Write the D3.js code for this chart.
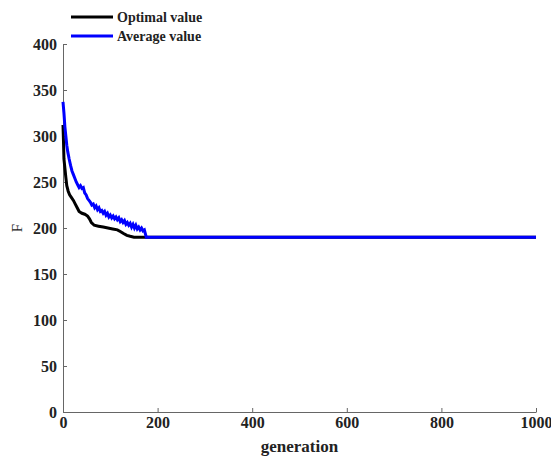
<!DOCTYPE html>
<html>
<head>
<meta charset="utf-8">
<script src="https://cdn.jsdelivr.net/npm/d3@7/dist/d3.min.js"></script>
<style>
  body { margin: 0; background: #fff; }
  .axis path, .axis line { stroke: #666; }
</style>
</head>
<body>
<svg id="chart" width="551" height="457"></svg>
<script>
  let serif = '"Liberation Serif", "Times New Roman", serif';

  // generations and values
  let optGen = [0, 1, 2, 4, 6, 8, 11, 14, 18, 22, 26, 30, 34, 40, 46, 52, 56, 60, 66, 75, 85, 95, 105, 115, 122, 128, 135, 142, 150, 1000];
  let optVal = [312, 295, 275, 265, 255, 246, 240, 236, 233, 230, 226, 222, 218, 216, 215, 213, 210, 206, 203, 202, 201, 200, 199, 198, 196, 194, 192, 191, 190, 190];

  let avgGen = [0, 2, 4, 6, 8, 10, 13, 16, 19, 22, 25, 28, 31, 34, 37, 40, 43, 46, 49, 52, 55, 58, 61, 64, 67, 70, 73, 76, 79, 82, 85, 88, 91, 94, 97, 100, 103, 106, 109, 112, 115, 118, 121, 124, 127, 130, 133, 136, 139, 142, 145, 148, 151, 154, 157, 160, 163, 166, 169, 172, 176, 1000];
  let avgVal = [337, 325, 310, 300, 290, 283, 275, 268, 262, 258, 254, 250, 247, 244, 246, 243, 244, 238, 236, 232, 230, 228, 225, 226, 222, 224, 220, 222, 218, 219, 216, 218, 214, 216, 212, 214, 211, 213, 210, 212, 209, 211, 207, 209, 206, 208, 204, 206, 203, 205, 201, 204, 200, 203, 199, 201, 198, 200, 197, 198, 190, 190];

  let xTicks = [0, 200, 400, 600, 800, 1000];
  let yTicks = [0, 50, 100, 150, 200, 250, 300, 350, 400];

  let margin = { top: 44, right: 15, bottom: 45, left: 63 };
  let svg = d3.select('#chart');
  let width = 551 - margin.left - margin.right;
  let height = 457 - margin.top - margin.bottom;

  let g = svg.append('g')
    .attr('transform', 'translate(' + margin.left + ',' + margin.top + ')');

  let x = d3.scaleLinear().domain([0, 1000]).range([0, width]);
  let y = d3.scaleLinear().domain([0, 400]).range([height, 0]);

  g.append('g')
    .attr('class', 'axis')
    .attr('transform', 'translate(0,' + height + ')')
    .call(d3.axisBottom(x).tickValues(xTicks).tickSizeInner(-4).tickSizeOuter(0).tickPadding(5).tickFormat(d3.format('d')))
    .attr('font-family', serif)
    .attr('font-size', 16)
    .attr('font-weight', 'bold');

  g.append('g')
    .attr('class', 'axis')
    .call(d3.axisLeft(y).tickValues(yTicks).tickSizeInner(-4).tickSizeOuter(0).tickPadding(6))
    .attr('font-family', serif)
    .attr('font-size', 16)
    .attr('font-weight', 'bold');

  g.selectAll('.axis text').attr('fill', '#222');

  let line = d3.line()
    .x(function(d) { return x(d[0]); })
    .y(function(d) { return y(d[1]); });

  g.append('path')
    .datum(d3.zip(optGen, optVal))
    .attr('fill', 'none')
    .attr('stroke', '#000')
    .attr('stroke-width', 3)
    .attr('d', line);

  g.append('path')
    .datum(d3.zip(avgGen, avgVal))
    .attr('fill', 'none')
    .attr('stroke', '#0000ff')
    .attr('stroke-width', 3)
    .attr('d', line);

  // axis titles
  svg.append('text')
    .attr('x', margin.left + width / 2)
    .attr('y', 452)
    .attr('text-anchor', 'middle')
    .attr('font-family', serif)
    .attr('font-weight', 'bold')
    .attr('font-size', 17)
    .attr('fill', '#222')
    .text('generation');

  svg.append('text')
    .attr('transform', 'translate(22,' + (margin.top + y(200)) + ') rotate(-90)')
    .attr('text-anchor', 'middle')
    .attr('font-family', serif)
    .attr('font-size', 15)
    .attr('fill', '#222')
    .text('F');

  // legend
  let legend = [
    { name: 'Optimal value', color: '#000' },
    { name: 'Average value', color: '#0000ff' }
  ];
  let lg = svg.selectAll('.legend')
    .data(legend)
    .enter()
    .append('g')
    .attr('class', 'legend')
    .attr('transform', function(d, i) { return 'translate(71,' + (17 + i * 19) + ')'; });

  lg.append('line')
    .attr('x1', 0).attr('x2', 42)
    .attr('stroke', function(d) { return d.color; })
    .attr('stroke-width', 3);

  lg.append('text')
    .attr('x', 46)
    .attr('dy', '0.35em')
    .attr('font-family', serif)
    .attr('font-weight', 'bold')
    .attr('font-size', 14)
    .attr('fill', '#222')
    .text(function(d) { return d.name; });
</script>
</body>
</html>
